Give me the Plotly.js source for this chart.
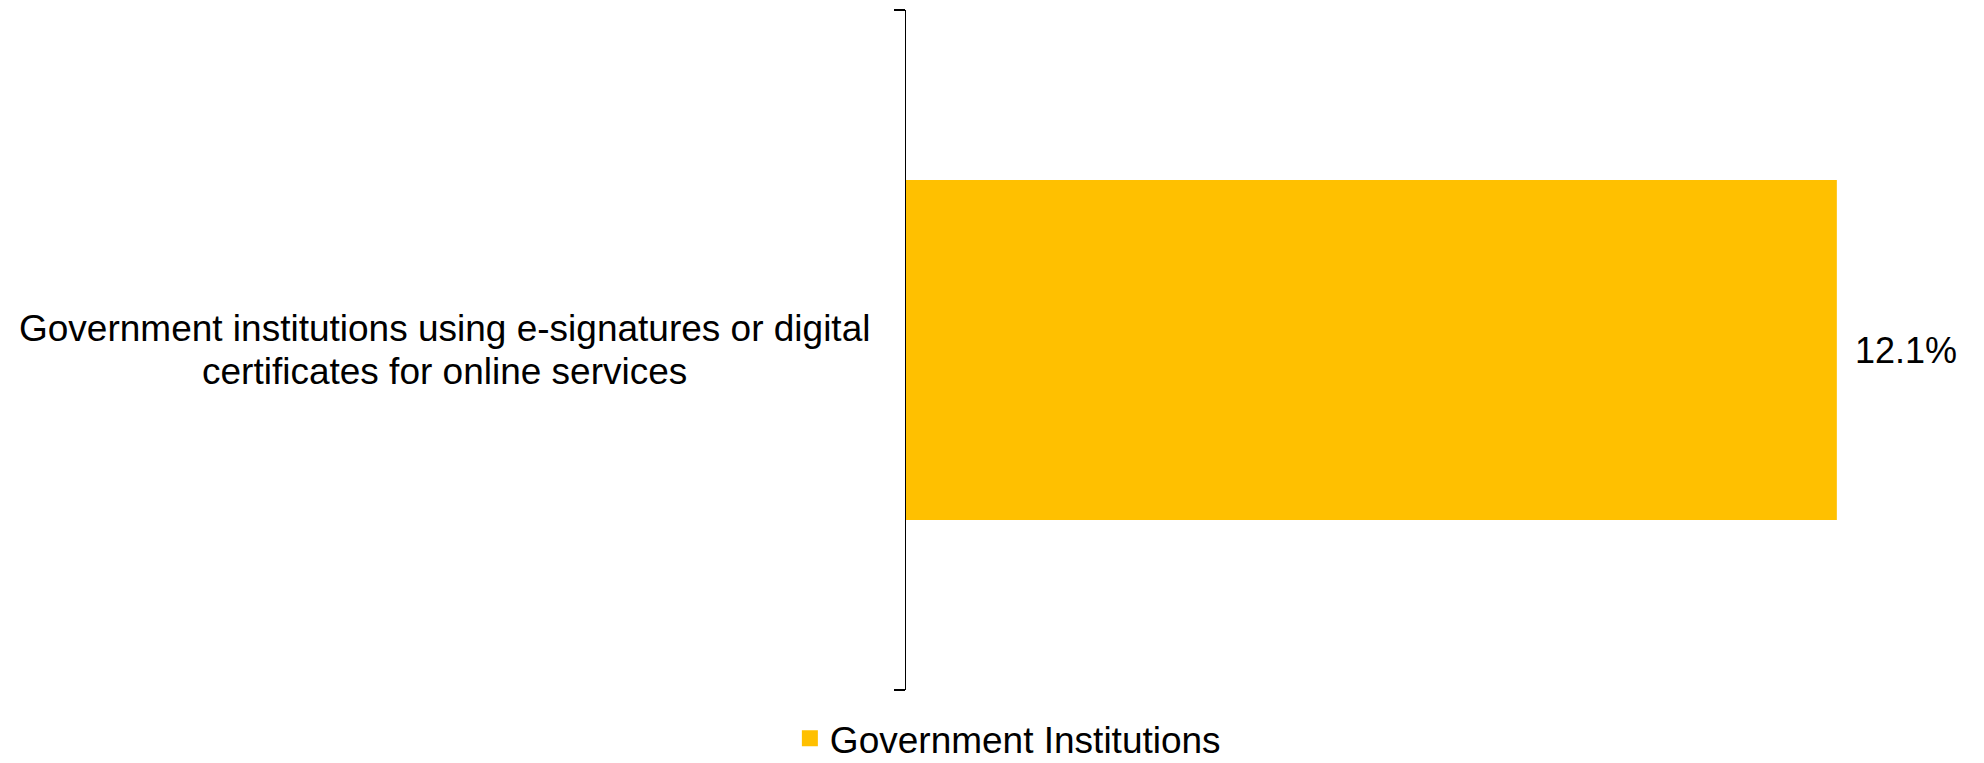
<!DOCTYPE html>
<html>
<head>
<meta charset="utf-8">
<script src="https://cdn.plot.ly/plotly-3.0.1.min.js"></script>
<style>
  html, body { margin: 0; padding: 0; background: #fff; }
  #chart { width: 1984px; height: 763px; }
</style>
</head>
<body>
<div id="chart"></div>
<script>
// data
const categories = ["Government institutions using e-signatures or digital<br>certificates for online services"];
const values = [12.1];
const seriesName = "Government Institutions";
const barColor = "#FFC000";

const fontFam = "Liberation Sans, Arial, sans-serif";
const lineGap = 43; // px between category label lines

let traces = [{
    type: 'bar',
    orientation: 'h',
    x: values,
    y: categories,
    name: seriesName,
    marker: { color: barColor },
    showlegend: false,
    hoverinfo: 'none'
}, {
    // legend entry only, bigger square than the bar swatch
    type: 'scatter',
    mode: 'markers',
    x: [null],
    y: [null],
    name: seriesName,
    marker: { color: barColor, symbol: 'square', size: 18 },
    showlegend: true,
    hoverinfo: 'none'
}];

// value labels just past the bar ends
let valueLabels = values.map(function (v, i) {
    return {
        x: v, y: categories[i], xref: 'x', yref: 'y',
        text: v.toFixed(1) + '%',
        showarrow: false, xanchor: 'left', xshift: 16,
        font: { family: fontFam, size: 36, color: '#000' }
    };
});

// category labels, centred lines like the original, tighter line spacing
let catLabels = [];
let cv = document.createElement('canvas').getContext('2d');
cv.font = '37px ' + fontFam;
categories.forEach(function (c) {
    let lines = c.split('<br>');
    let widths = lines.map(function (l) { return cv.measureText(l).width; });
    let wmax = Math.max.apply(null, widths);
    lines.forEach(function (ln, i) {
        catLabels.push({
            x: 0, y: c, xref: 'paper', yref: 'y',
            text: ln,
            showarrow: false, xanchor: 'right',
            xshift: -34 - (wmax - widths[i]) / 2,
            yshift: ((lines.length - 1) / 2 - i) * lineGap,
            font: { family: fontFam, size: 37, color: '#000' }
        });
    });
});

var layout = {
    width: 1984,
    height: 763,
    paper_bgcolor: '#fff',
    plot_bgcolor: '#fff',
    margin: { l: 906, r: 1, t: 10, b: 73 },
    bargap: 0.5,
    font: { family: fontFam, size: 36, color: '#000' },
    xaxis: {
        range: [0, 14],
        visible: false,
        fixedrange: true
    },
    yaxis: {
        type: 'category',
        showline: true,
        linecolor: '#000',
        linewidth: 1.5,
        ticks: 'outside',
        tickson: 'boundaries',
        ticklen: 11,
        tickwidth: 1.5,
        tickcolor: '#000',
        showticklabels: false,
        showgrid: false,
        zeroline: false,
        fixedrange: true
    },
    showlegend: true,
    legend: {
        orientation: 'h',
        xref: 'container',
        yref: 'container',
        x: 0.508,
        xanchor: 'center',
        y: 0.032,
        yanchor: 'middle',
        itemwidth: 30,
        font: { family: fontFam, size: 37, color: '#000' }
    },
    annotations: valueLabels.concat(catLabels)
};

Plotly.newPlot('chart', traces, layout, { displayModeBar: false, staticPlot: true });
</script>
</body>
</html>
